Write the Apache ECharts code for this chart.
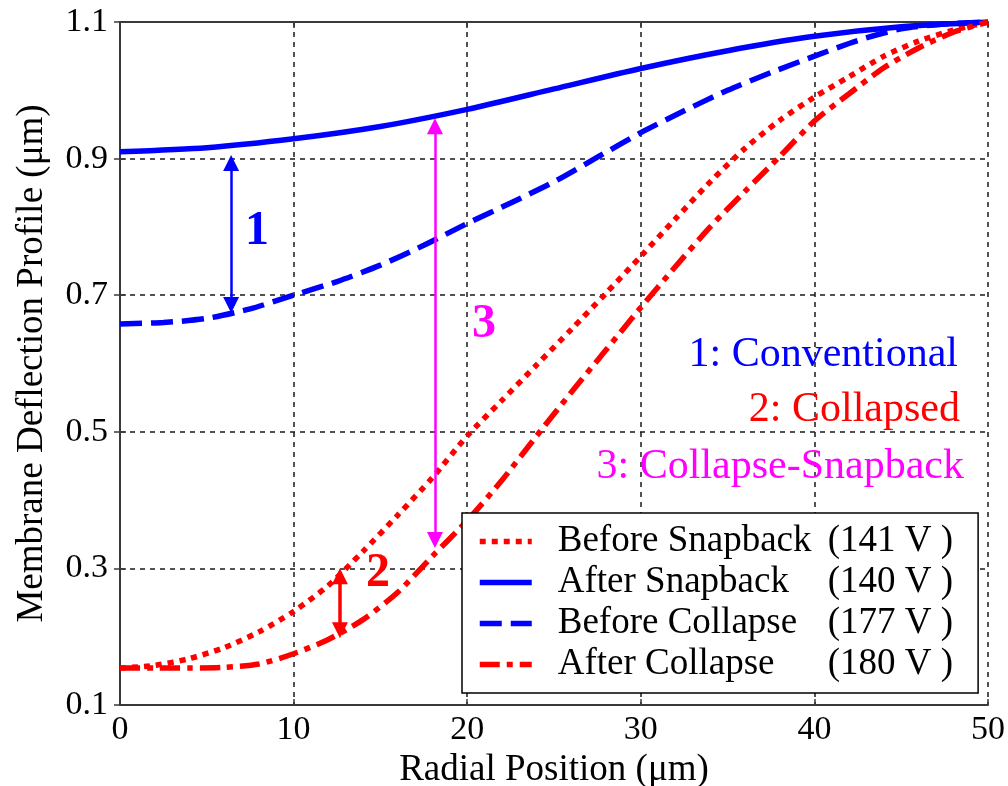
<!DOCTYPE html>
<html><head><meta charset="utf-8">
<script src="https://cdn.jsdelivr.net/npm/echarts@6/dist/echarts.min.js"></script>
<style>html,body{margin:0;padding:0;background:#fff}#c{width:1008px;height:786px}</style>
</head><body><div id="c"></div>
<script>
// ---- data ----
const afterSnapX = [0, 5, 10, 15, 20, 25, 30, 35, 40, 45, 50];
const afterSnapY = [0.910, 0.916, 0.929, 0.947, 0.972, 1.002, 1.032, 1.058, 1.079, 1.093, 1.100];

const beforeCollapseX = [0, 2.5, 5, 7.5, 10, 12.5, 15, 17.5, 20, 22.5, 25, 27.5, 30, 32.5, 35, 37.5, 40, 42.5, 45, 47.5, 50];
const beforeCollapseY = [0.658, 0.660, 0.666, 0.680, 0.700, 0.720, 0.744, 0.773, 0.805, 0.835, 0.866, 0.902, 0.938, 0.970, 1.000, 1.026, 1.050, 1.073, 1.090, 1.097, 1.100];

const beforeSnapX = [0, 2, 4, 6, 8, 10, 12, 14, 16, 18, 20, 22, 24, 26, 28, 30, 32, 34, 36, 38, 40, 42, 44, 46, 48, 50];
const beforeSnapY = [0.154, 0.158, 0.168, 0.184, 0.207, 0.237, 0.275, 0.325, 0.378, 0.433, 0.494, 0.546, 0.598, 0.650, 0.703, 0.757, 0.812, 0.866, 0.915, 0.956, 0.990, 1.020, 1.050, 1.072, 1.088, 1.100];

const afterCollapseX = [0, 2, 4, 6, 8, 10, 12, 14, 16, 18, 20, 22, 24, 26, 28, 30, 32, 34, 36, 38, 40, 42, 44, 46, 48, 50];
const afterCollapseY = [0.154, 0.154, 0.154, 0.155, 0.160, 0.175, 0.196, 0.225, 0.265, 0.318, 0.370, 0.429, 0.494, 0.558, 0.620, 0.682, 0.742, 0.800, 0.852, 0.903, 0.955, 0.995, 1.033, 1.062, 1.085, 1.100];

const seriesNames = ['Before Snapback', 'After Snapback', 'Before Collapse', 'After Collapse'];
const voltages = ['(141 V )', '(140 V )', '(177 V )', '(180 V )'];

const xTicks = [0, 10, 20, 30, 40, 50];
const yTicks = [0.1, 0.3, 0.5, 0.7, 0.9, 1.1];

// double-headed arrows (tip positions, data coordinates): 1 conventional, 2 collapsed, 3 collapse-snapback
const arrowX = [6.4, 12.67, 18.14];
const arrowLow = [0.674, 0.198, 0.330];
const arrowHigh = [0.905, 0.300, 0.959];
const arrowLabels = ['1', '2', '3'];

const noteTexts = ['1: Conventional', '2: Collapsed', '3: Collapse-Snapback'];

// ---- styles ----
const FONT = '"Liberation Serif", "Times New Roman", serif';
const BLUE = '#0000ff', RED = '#ff0000', MAG = '#ff00ff';
const arrowColors = [BLUE, RED, MAG];
const noteColors = [BLUE, RED, MAG];
const HEAD = 16;            // arrow head size (px)
const HEAD_HALF = 0.0115;   // half head length expressed in y units (symbol is centred on the end point)

function pairs(xs, ys) { return xs.map((x, i) => [x, ys[i]]); }

function arrowMarkLine(i, width) {
  return {
    silent: true,
    symbol: ['triangle', 'triangle'],
    symbolSize: HEAD,
    label: { show: false },
    emphasis: { disabled: true },
    lineStyle: { color: arrowColors[i], width: width, type: 'solid', opacity: 1 },
    data: [[{ coord: [arrowX[i], arrowLow[i] + HEAD_HALF] }, { coord: [arrowX[i], arrowHigh[i] - HEAD_HALF] }]]
  };
}

const lineStyles = [
  { color: RED, width: 5.5, type: [6, 6], cap: 'butt' },
  { color: BLUE, width: 5.5, type: 'solid' },
  { color: BLUE, width: 5.5, type: [22, 9], cap: 'butt' },
  { color: RED, width: 5.5, type: [20, 7, 6, 7], cap: 'butt' }
];
const seriesData = [
  pairs(beforeSnapX, beforeSnapY),
  pairs(afterSnapX, afterSnapY),
  pairs(beforeCollapseX, beforeCollapseY),
  pairs(afterCollapseX, afterCollapseY)
];

const series = seriesNames.map((n, i) => ({
  name: n,
  type: 'line',
  data: seriesData[i],
  smooth: 0.25,
  showSymbol: false,
  symbol: 'none',
  lineStyle: lineStyles[i],
  itemStyle: { color: lineStyles[i].color },
  z: 3
}));
// attach arrows
series[1].markLine = arrowMarkLine(0, 2.5);
series[3].markLine = arrowMarkLine(1, 3.5);
series[0].markLine = arrowMarkLine(2, 2.5);

const axisLineStyle = { color: '#3a3a3a', width: 2 };
const gridSplit = { show: true, lineStyle: { color: '#1a1a1a', width: 1.5, type: [5, 5] } };

const chart = echarts.init(document.getElementById('c'), null, { renderer: 'canvas' });
chart.setOption({
  animation: false,
  backgroundColor: '#fff',
  grid: { left: 120, right: 20, top: 22, bottom: 81, containLabel: false, outerBoundsMode: 'none' },
  xAxis: [{
    type: 'value', min: xTicks[0], max: xTicks[xTicks.length - 1], interval: 10,
    name: 'Radial Position (μm)', nameLocation: 'middle', nameGap: 40,
    nameTextStyle: { fontFamily: FONT, fontSize: 37, color: '#000' },
    axisLine: { show: true, lineStyle: axisLineStyle },
    axisTick: { show: true, inside: true, length: 6, lineStyle: { color: '#3a3a3a', width: 1.5 } },
    axisLabel: { fontFamily: FONT, fontSize: 34, color: '#000', margin: 8 },
    splitLine: gridSplit
  }, {
    type: 'value', position: 'top', min: xTicks[0], max: xTicks[xTicks.length - 1], interval: 10,
    axisLine: { show: true, lineStyle: axisLineStyle },
    axisTick: { show: true, inside: true, length: 6, lineStyle: { color: '#3a3a3a', width: 1.5 } },
    axisLabel: { show: false },
    splitLine: { show: false }
  }],
  yAxis: [{
    type: 'value', min: yTicks[0], max: yTicks[yTicks.length - 1],
    name: 'Membrane Deflection Profile (μm)', nameLocation: 'middle', nameGap: 69,
    nameTextStyle: { fontFamily: FONT, fontSize: 37, color: '#000' },
    axisLine: { show: true, lineStyle: axisLineStyle },
    axisTick: { show: true, inside: true, length: 6, customValues: yTicks, lineStyle: { color: '#3a3a3a', width: 1.5 } },
    axisLabel: { fontFamily: FONT, fontSize: 34, color: '#000', margin: 12, customValues: yTicks,
      formatter: v => v.toFixed(1) },
    splitLine: gridSplit
  }, {
    type: 'value', position: 'right', min: yTicks[0], max: yTicks[yTicks.length - 1],
    axisLine: { show: true, lineStyle: axisLineStyle },
    axisTick: { show: true, inside: true, length: 6, customValues: yTicks, lineStyle: { color: '#3a3a3a', width: 1.5 } },
    axisLabel: { show: false },
    splitLine: { show: false }
  }],
  legend: {
    data: seriesNames,
    orient: 'vertical',
    left: 462, top: 513,
    padding: [10, 25, 10, 15],
    itemWidth: 52, itemHeight: 14, itemGap: 4,
    backgroundColor: '#fff',
    borderColor: '#000', borderWidth: 1.5, borderRadius: 0,
    selectedMode: false,
    itemStyle: { opacity: 0 },
    lineStyle: { width: 5.5 },
    formatter: function (name) {
      const i = seriesNames.indexOf(name);
      return '{g|}{n|' + name + '}{v|' + voltages[i] + '}';
    },
    textStyle: {
      fontFamily: FONT, fontSize: 37, color: '#000',
      rich: {
        g: { width: 21 },
        n: { width: 270, fontFamily: FONT, fontSize: 37, color: '#000' },
        v: { fontFamily: FONT, fontSize: 37, color: '#000' }
      }
    }
  },
  graphic: [
    { type: 'text', x: 958, y: 355, z: 10, style: { text: noteTexts[0], font: '42px ' + FONT, fill: noteColors[0], align: 'right', verticalAlign: 'middle' } },
    { type: 'text', x: 960, y: 410, z: 10, style: { text: noteTexts[1], font: '42px ' + FONT, fill: noteColors[1], align: 'right', verticalAlign: 'middle' } },
    { type: 'text', x: 964, y: 467, z: 10, style: { text: noteTexts[2], font: '42px ' + FONT, fill: noteColors[2], align: 'right', verticalAlign: 'middle' } },
    { type: 'text', x: 257, y: 232, z: 10, style: { text: arrowLabels[0], font: 'bold 48px ' + FONT, fill: arrowColors[0], align: 'center', verticalAlign: 'middle' } },
    { type: 'text', x: 378, y: 574, z: 10, style: { text: arrowLabels[1], font: 'bold 48px ' + FONT, fill: arrowColors[1], align: 'center', verticalAlign: 'middle' } },
    { type: 'text', x: 484, y: 325, z: 10, style: { text: arrowLabels[2], font: 'bold 48px ' + FONT, fill: arrowColors[2], align: 'center', verticalAlign: 'middle' } }
  ],
  series: series
});
</script>
</body></html>
